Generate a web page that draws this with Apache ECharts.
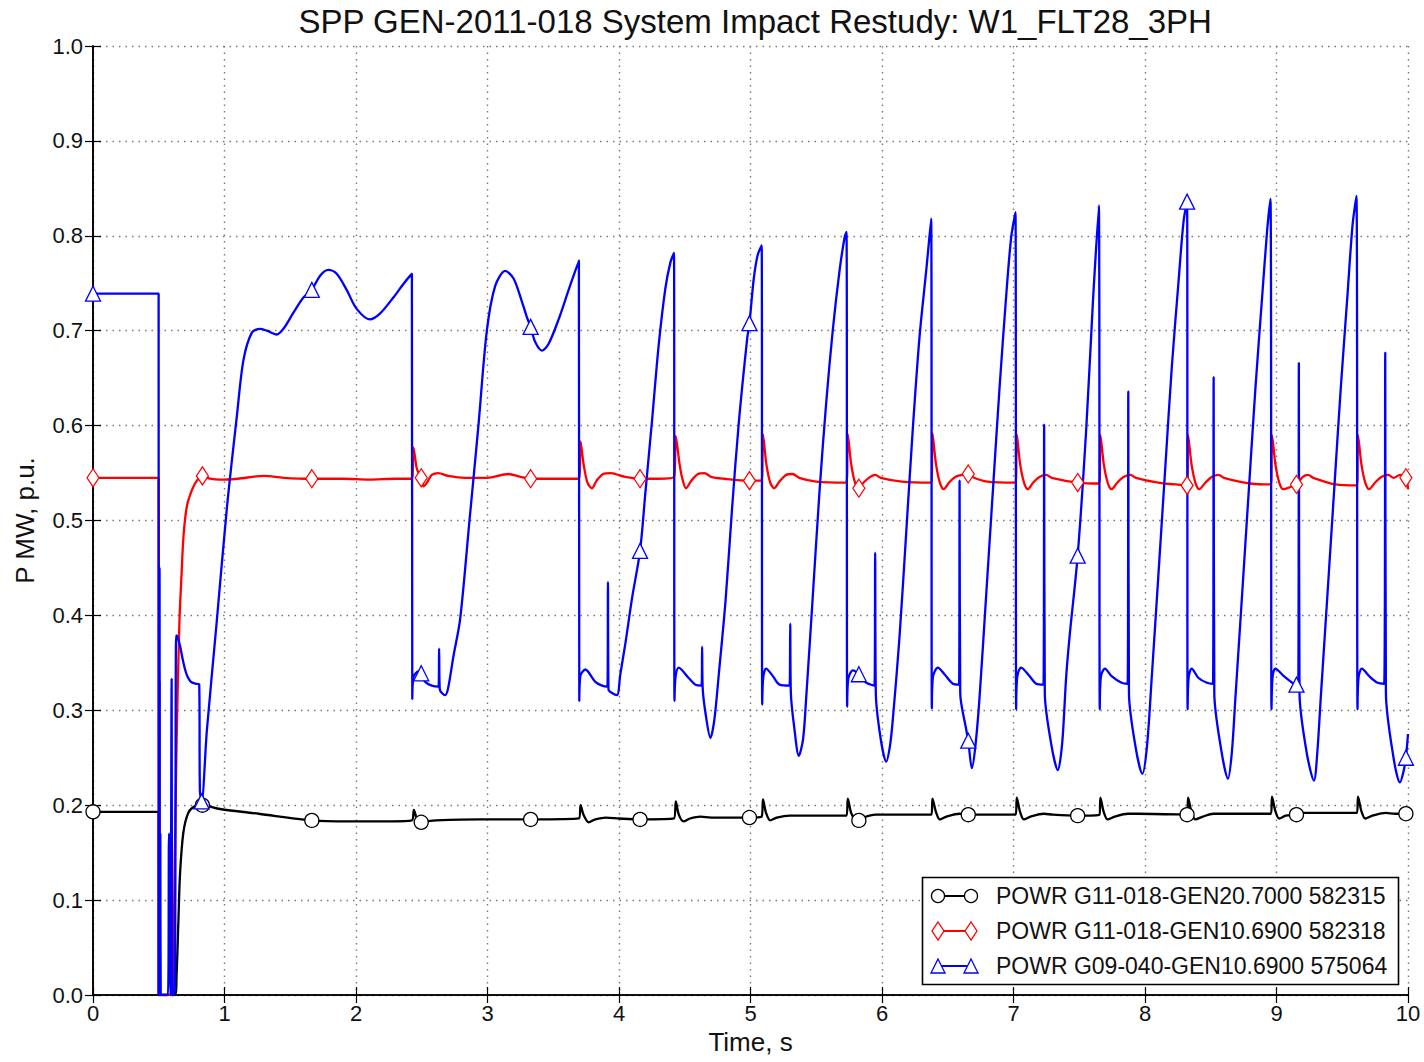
<!DOCTYPE html>
<html><head><meta charset="utf-8">
<script src="https://cdn.jsdelivr.net/npm/echarts@6/dist/echarts.min.js"></script>
<style>html,body{margin:0;padding:0;background:#fff}#c{width:1424px;height:1062px}</style>
</head><body><div id="c"></div>
<script>
// ---------------- DATA ----------------
const chartTitle = 'SPP GEN-2011-018 System Impact Restudy: W1_FLT28_3PH';
const xAxisName = 'Time, s';
const yAxisName = 'P MW, p.u.';
const xTicks = [0, 1, 2, 3, 4, 5, 6, 7, 8, 9, 10];
const yTicks = [0.0, 0.1, 0.2, 0.3, 0.4, 0.5, 0.6, 0.7, 0.8, 0.9, 1.0];
const seriesNames = [
  'POWR G11-018-GEN20.7000 582315',
  'POWR G11-018-GEN10.6900 582318',
  'POWR G09-040-GEN10.6900 575064'
];
// times (s) at which the curves carry a marker
const markerTimes = [0, 0.832, 1.664, 2.496, 3.328, 4.16, 4.992, 5.824, 6.656, 7.488, 8.32, 9.152, 9.984];

// black: POWR G11-018-GEN2
const powerGen2 = [
  [0,0.193],[0.499,0.193],[0.500,0.0],[0.624,0.0],[0.636,0.023],[0.649,0.076],[0.662,0.128],[0.687,0.171],
  [0.725,0.192],[0.776,0.199],[0.832,0.200],[0.966,0.196],[1.260,0.191],[1.664,0.184],[1.940,0.183],[2.270,0.183],
  [2.425,0.184],[2.440,0.195],[2.465,0.185],[2.496,0.182],[2.540,0.183],[2.610,0.184],[2.950,0.185],[3.328,0.185],
  [3.695,0.186],[3.708,0.200],[3.730,0.190],[3.770,0.182],[3.820,0.185],[3.900,0.187],[4.000,0.186],[4.160,0.185],
  [4.418,0.186],[4.432,0.204],[4.455,0.190],[4.490,0.183],[4.540,0.186],[4.620,0.188],[4.700,0.187],[4.992,0.187],
  [5.085,0.188],[5.095,0.206],[5.118,0.192],[5.150,0.184],[5.200,0.187],[5.300,0.189],[5.500,0.189],[5.730,0.189],
  [5.740,0.207],[5.765,0.192],[5.795,0.185],[5.824,0.184],[5.860,0.187],[5.950,0.190],[6.100,0.190],[6.376,0.190],
  [6.384,0.207],[6.410,0.193],[6.440,0.185],[6.490,0.188],[6.590,0.191],[6.656,0.190],[6.800,0.190],[7.017,0.190],
  [7.025,0.208],[7.050,0.193],[7.080,0.185],[7.130,0.188],[7.230,0.191],[7.300,0.190],[7.488,0.189],[7.653,0.190],
  [7.661,0.208],[7.686,0.193],[7.716,0.185],[7.770,0.188],[7.870,0.191],[7.950,0.191],[8.320,0.190],[8.328,0.208],
  [8.353,0.193],[8.383,0.185],[8.440,0.188],[8.520,0.191],[8.700,0.191],[8.958,0.191],[8.966,0.209],[8.991,0.194],
  [9.021,0.186],[9.070,0.189],[9.152,0.190],[9.170,0.192],[9.300,0.192],[9.612,0.192],[9.620,0.209],[9.645,0.194],
  [9.675,0.186],[9.730,0.189],[9.830,0.192],[9.900,0.191],[9.984,0.191],[10.0,0.193]
];

// red: POWR G11-018-GEN1
const powerGen1 = [
  [0,0.545],[0.499,0.545],[0.500,0.0],[0.502,0.337],[0.504,0.0],[0.506,0.330],[0.508,0.0],[0.610,0.0],
  [0.618,0.100],[0.636,0.269],[0.657,0.392],[0.674,0.445],[0.689,0.485],[0.714,0.515],[0.752,0.532],[0.790,0.542],
  [0.832,0.547],[0.891,0.544],[0.967,0.543],[1.100,0.544],[1.300,0.547],[1.450,0.545],[1.664,0.544],[1.900,0.544],
  [2.100,0.543],[2.300,0.544],[2.425,0.544],[2.437,0.577],[2.460,0.556],[2.470,0.552],[2.496,0.545],[2.513,0.536],
  [2.540,0.540],[2.576,0.548],[2.627,0.550],[2.700,0.547],[2.830,0.545],[3.000,0.545],[3.160,0.549],[3.250,0.546],
  [3.328,0.544],[3.500,0.544],[3.695,0.544],[3.708,0.583],[3.730,0.560],[3.760,0.540],[3.794,0.534],[3.830,0.542],
  [3.880,0.549],[3.940,0.550],[3.972,0.549],[4.048,0.546],[4.160,0.544],[4.300,0.544],[4.418,0.546],[4.432,0.589],
  [4.460,0.560],[4.480,0.545],[4.510,0.534],[4.550,0.542],[4.600,0.549],[4.650,0.550],[4.700,0.546],[4.800,0.544],
  [4.992,0.542],[5.085,0.542],[5.095,0.591],[5.120,0.560],[5.150,0.540],[5.180,0.534],[5.220,0.541],[5.270,0.548],
  [5.320,0.549],[5.370,0.545],[5.500,0.541],[5.730,0.540],[5.740,0.591],[5.765,0.560],[5.795,0.540],[5.824,0.534],
  [5.860,0.540],[5.910,0.546],[5.950,0.548],[5.990,0.545],[6.150,0.541],[6.376,0.540],[6.384,0.592],[6.410,0.560],
  [6.440,0.540],[6.470,0.533],[6.510,0.540],[6.560,0.546],[6.610,0.548],[6.656,0.549],[6.700,0.545],[6.800,0.541],
  [7.017,0.540],[7.025,0.591],[7.050,0.560],[7.080,0.540],[7.110,0.533],[7.150,0.540],[7.200,0.546],[7.250,0.548],
  [7.290,0.545],[7.488,0.540],[7.653,0.539],[7.661,0.590],[7.686,0.560],[7.716,0.540],[7.746,0.533],[7.790,0.540],
  [7.840,0.546],[7.890,0.548],[7.930,0.545],[8.100,0.540],[8.320,0.537],[8.328,0.590],[8.353,0.560],[8.383,0.540],
  [8.413,0.533],[8.460,0.540],[8.510,0.546],[8.560,0.548],[8.600,0.545],[8.800,0.539],[8.958,0.538],[8.966,0.590],
  [8.991,0.560],[9.021,0.540],[9.051,0.533],[9.100,0.535],[9.152,0.538],[9.200,0.546],[9.240,0.548],[9.280,0.545],
  [9.450,0.538],[9.612,0.537],[9.620,0.590],[9.645,0.560],[9.675,0.540],[9.705,0.533],[9.750,0.540],[9.800,0.546],
  [9.850,0.548],[9.890,0.545],[9.940,0.548],[9.984,0.545],[10.0,0.533]
];

// blue: POWR G09-040-GEN1
const powerG09 = [
  [0,0.739],[0.499,0.739],[0.500,0.0],[0.502,0.452],[0.504,0.340],[0.506,0.450],[0.508,0.0],[0.512,0.170],
  [0.515,0.0],[0.570,0.0],[0.578,0.170],[0.584,0.155],[0.590,0.0],[0.598,0.333],[0.604,0.0],[0.620,0.0],
  [0.626,0.100],[0.632,0.379],[0.640,0.378],[0.662,0.368],[0.680,0.355],[0.700,0.343],[0.720,0.335],[0.745,0.330],
  [0.780,0.328],[0.808,0.327],[0.813,0.215],[0.826,0.204],[0.866,0.279],[0.940,0.392],[1.018,0.513],[1.094,0.610],
  [1.144,0.669],[1.208,0.698],[1.271,0.702],[1.322,0.700],[1.397,0.696],[1.448,0.702],[1.524,0.719],[1.600,0.735],
  [1.664,0.743],[1.727,0.758],[1.790,0.764],[1.853,0.760],[1.929,0.743],[2.005,0.723],[2.106,0.712],[2.182,0.718],
  [2.284,0.735],[2.359,0.749],[2.425,0.760],[2.428,0.312],[2.437,0.335],[2.475,0.341],[2.496,0.339],[2.525,0.330],
  [2.576,0.326],[2.628,0.325],[2.632,0.365],[2.637,0.322],[2.655,0.318],[2.678,0.316],[2.700,0.323],[2.741,0.357],
  [2.792,0.396],[2.863,0.500],[2.931,0.600],[2.995,0.700],[3.058,0.747],[3.135,0.763],[3.198,0.755],[3.261,0.731],
  [3.300,0.714],[3.328,0.704],[3.363,0.688],[3.414,0.679],[3.464,0.686],[3.541,0.712],[3.617,0.743],[3.695,0.774],
  [3.698,0.310],[3.706,0.336],[3.744,0.343],[3.820,0.330],[3.871,0.326],[3.912,0.325],[3.916,0.435],[3.920,0.322],
  [3.950,0.318],[3.985,0.316],[4.010,0.338],[4.048,0.370],[4.099,0.418],[4.160,0.468],[4.201,0.530],[4.251,0.605],
  [4.302,0.685],[4.353,0.745],[4.391,0.772],[4.418,0.782],[4.422,0.310],[4.430,0.335],[4.454,0.345],[4.530,0.334],
  [4.581,0.327],[4.628,0.326],[4.632,0.367],[4.637,0.322],[4.660,0.295],[4.695,0.271],[4.725,0.290],[4.759,0.338],
  [4.810,0.415],[4.860,0.513],[4.911,0.603],[4.975,0.692],[4.992,0.708],[5.025,0.755],[5.055,0.780],[5.085,0.790],
  [5.089,0.306],[5.097,0.335],[5.119,0.344],[5.170,0.336],[5.221,0.327],[5.297,0.326],[5.302,0.391],[5.307,0.318],
  [5.330,0.285],[5.368,0.252],[5.400,0.270],[5.423,0.312],[5.474,0.421],[5.525,0.531],[5.575,0.623],[5.626,0.701],
  [5.677,0.763],[5.715,0.798],[5.730,0.804],[5.735,0.304],[5.743,0.333],[5.778,0.342],[5.824,0.338],[5.880,0.329],
  [5.943,0.326],[5.948,0.466],[5.953,0.318],[5.990,0.270],[6.032,0.246],[6.060,0.262],[6.082,0.290],[6.133,0.377],
  [6.184,0.487],[6.234,0.596],[6.285,0.693],[6.336,0.763],[6.374,0.818],[6.379,0.302],[6.387,0.335],[6.425,0.345],
  [6.475,0.338],[6.539,0.328],[6.586,0.327],[6.590,0.542],[6.595,0.318],[6.640,0.280],[6.656,0.268],[6.683,0.239],
  [6.710,0.262],[6.741,0.312],[6.792,0.421],[6.843,0.531],[6.894,0.640],[6.944,0.736],[6.982,0.798],[7.015,0.825],
  [7.020,0.301],[7.028,0.335],[7.058,0.345],[7.122,0.336],[7.172,0.328],[7.228,0.327],[7.233,0.601],[7.238,0.318],
  [7.290,0.262],[7.337,0.237],[7.370,0.265],[7.400,0.334],[7.426,0.377],[7.488,0.463],[7.553,0.596],[7.603,0.728],
  [7.649,0.832],[7.656,0.301],[7.664,0.335],[7.695,0.344],[7.746,0.336],[7.822,0.329],[7.868,0.328],[7.873,0.636],
  [7.878,0.318],[7.930,0.260],[7.980,0.233],[8.015,0.262],[8.051,0.334],[8.102,0.443],[8.153,0.553],[8.204,0.662],
  [8.254,0.750],[8.293,0.815],[8.320,0.836],[8.324,0.301],[8.332,0.335],[8.355,0.344],[8.407,0.334],[8.471,0.329],
  [8.517,0.328],[8.522,0.651],[8.527,0.318],[8.580,0.258],[8.631,0.228],[8.660,0.255],[8.687,0.312],[8.738,0.421],
  [8.789,0.531],[8.840,0.640],[8.891,0.736],[8.929,0.806],[8.954,0.839],[8.962,0.301],[8.970,0.335],[8.992,0.344],
  [9.056,0.336],[9.120,0.329],[9.152,0.327],[9.165,0.327],[9.170,0.666],[9.175,0.318],[9.230,0.255],[9.285,0.226],
  [9.310,0.255],[9.336,0.312],[9.387,0.421],[9.438,0.531],[9.489,0.640],[9.539,0.736],[9.578,0.811],[9.608,0.842],
  [9.616,0.301],[9.624,0.335],[9.649,0.344],[9.705,0.336],[9.768,0.329],[9.819,0.328],[9.827,0.677],[9.832,0.318],
  [9.890,0.250],[9.939,0.224],[9.965,0.235],[9.984,0.250],[10.0,0.275]
];

// ---------------- STYLE / LAYOUT ----------------
const FONT = '"Liberation Sans", Arial, Helvetica, sans-serif';
const TXT = '#111';
const seriesDefs = [
  {name: seriesNames[0], data: powerGen2, color: '#000000', symbol: 'circle',   size: 14},
  {name: seriesNames[1], data: powerGen1, color: '#ff0000', symbol: 'diamond',  size: [12, 18]},
  {name: seriesNames[2], data: powerG09,  color: '#0000ff', symbol: 'triangle', size: [15, 15]}
];
const G = {left: 93, top: 46, width: 1315, height: 949};

function nearestIndexSet(data) {
  const s = new Set();
  markerTimes.forEach(mt => {
    let best = 0, bd = Infinity;
    data.forEach((p, i) => { const d = Math.abs(p[0] - mt); if (d < bd) { bd = d; best = i; } });
    s.add(best);
  });
  return s;
}

const series = seriesDefs.map(sd => {
  const mk = nearestIndexSet(sd.data);
  return {
    type: 'line', name: sd.name,
    data: sd.data.map((p, i) => mk.has(i) ? {value: p} : {value: p, symbol: 'none'}),
    symbol: sd.symbol, symbolSize: sd.size, showSymbol: true, showAllSymbol: true,
    smooth: 0.3,
    lineStyle: {color: sd.color, width: 2.3},
    itemStyle: {color: '#ffffff', borderColor: sd.color, borderWidth: 1.3},
    emphasis: {disabled: true}, silent: true, animation: false, clip: true
  };
});

// legend drawn as graphic (matplotlib style: marker-line-marker)
function markerEl(sym, cx, cy, color) {
  const st = {fill: '#ffffff', stroke: color, lineWidth: 1.3};
  if (sym === 'circle') return {type: 'circle', shape: {cx, cy, r: 6.5}, style: st};
  if (sym === 'diamond') return {type: 'polygon', shape: {points: [[cx, cy - 9], [cx + 6, cy], [cx, cy + 9], [cx - 6, cy]]}, style: st};
  return {type: 'polygon', shape: {points: [[cx, cy - 7], [cx + 7, cy + 7], [cx - 7, cy + 7]]}, style: st};
}
const legendEls = [{type: 'rect', shape: {x: 922.5, y: 877.5, width: 476, height: 107}, style: {fill: '#fff', stroke: '#000', lineWidth: 1.6}, z: 100}];
seriesDefs.forEach((sd, i) => {
  const y = 896 + i * 35;
  legendEls.push({type: 'line', shape: {x1: 938, y1: y, x2: 971, y2: y}, style: {stroke: sd.color, lineWidth: 2}, z: 101});
  legendEls.push(Object.assign(markerEl(sd.symbol, 938, y, sd.color), {z: 102}));
  legendEls.push(Object.assign(markerEl(sd.symbol, 971, y, sd.color), {z: 102}));
  legendEls.push({type: 'text', z: 102, style: {text: sd.name, x: 996, y: y, verticalAlign: 'middle', textAlign: 'left', fill: TXT, fontSize: 23, fontFamily: FONT}});
});

// title centered over the plot area
const TITLE_SIZE = 33;
const tctx = document.createElement('canvas').getContext('2d');
tctx.font = TITLE_SIZE + 'px "Liberation Sans"';
const titleW = tctx.measureText(chartTitle).width;

const axisLineStyle = {color: '#000', width: 1.6};
const tickStyle = {show: true, inside: true, length: 8, lineStyle: {color: '#000', width: 1.2}};
const gridLine = {show: true, lineStyle: {color: '#777', width: 1.4, type: [1.5, 5]}};

const option = {
  backgroundColor: '#ffffff',
  animation: false,
  title: {text: chartTitle, left: G.left + G.width / 2 - titleW / 2, top: 0,
          textStyle: {fontSize: TITLE_SIZE, fontWeight: 'normal', color: TXT, fontFamily: FONT}},
  grid: {left: G.left, top: G.top, width: G.width, height: G.height, containLabel: false},
  xAxis: [
    {type: 'value', min: xTicks[0], max: xTicks[xTicks.length - 1], interval: 1, position: 'bottom',
     name: xAxisName, nameLocation: 'middle', nameGap: 33,
     nameTextStyle: {fontSize: 26, color: TXT, fontFamily: FONT},
     axisLine: {show: true, lineStyle: axisLineStyle}, axisTick: tickStyle,
     axisLabel: {fontSize: 22, color: TXT, fontFamily: FONT, margin: 7, formatter: v => String(v)},
     splitLine: gridLine},
    {type: 'value', min: xTicks[0], max: xTicks[xTicks.length - 1], interval: 1, position: 'top',
     axisLine: {show: true, lineStyle: axisLineStyle}, axisTick: tickStyle,
     axisLabel: {show: false}, splitLine: {show: false}}
  ],
  yAxis: [
    {type: 'value', min: yTicks[0], max: yTicks[yTicks.length - 1], interval: 0.1, position: 'left',
     name: yAxisName, nameLocation: 'middle', nameGap: 55, nameRotate: 90,
     nameTextStyle: {fontSize: 26, color: TXT, fontFamily: FONT},
     axisLine: {show: true, lineStyle: axisLineStyle}, axisTick: tickStyle,
     axisLabel: {fontSize: 22, color: TXT, fontFamily: FONT, margin: 10, formatter: v => v.toFixed(1)},
     splitLine: gridLine},
    {type: 'value', min: yTicks[0], max: yTicks[yTicks.length - 1], interval: 0.1, position: 'right',
     axisLine: {show: true, lineStyle: axisLineStyle}, axisTick: tickStyle,
     axisLabel: {show: false}, splitLine: {show: false}}
  ],
  series: series,
  graphic: {elements: legendEls}
};

const chart = echarts.init(document.getElementById('c'), null, {renderer: 'svg', width: 1424, height: 1062});
chart.setOption(option);
</script>
</body></html>
